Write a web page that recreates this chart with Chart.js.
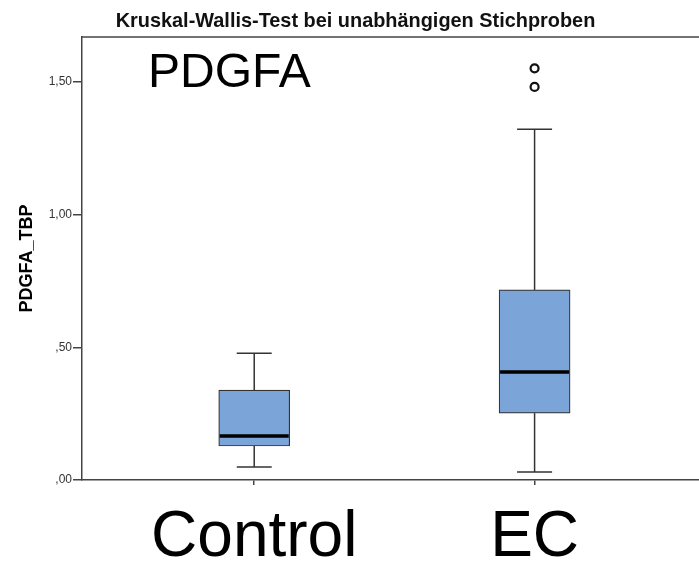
<!DOCTYPE html>
<html><head><meta charset="utf-8">
<script src="https://cdn.jsdelivr.net/npm/chart.js@4"></script>
<style>html,body{margin:0;padding:0;background:#fff;overflow:hidden;width:699px;height:563px}#wrap{width:706px;height:563px;position:relative}</style>
</head><body><div id="wrap"><canvas id="c"></canvas></div>
<script>
const categories = ["Control", "EC"];
const whiskerLow = [0.049, 0.030];
const q1 = [0.128, 0.252];
const median = [0.166, 0.407];
const q3 = [0.339, 0.716];
const whiskerHigh = [0.478, 1.321];
const outlierCategory = ["EC", "EC"];
const outlierValues = [1.551, 1.481];
const yTickValues = [0, 0.5, 1.0, 1.5];
const yTickLabels = [",00", ",50", "1,00", "1,50"];
const chartTitle = "Kruskal-Wallis-Test bei unabhängigen Stichproben";
const panelLabel = "PDGFA";
const yAxisTitle = "PDGFA_TBP";

const FONT = '"Liberation Sans", Arial, sans-serif';
Chart.defaults.font.family = FONT;

const boxPlugin = {
  id: 'boxParts',
  beforeDatasetsDraw(chart) {
    const {ctx, scales: {x, y}} = chart;
    ctx.save();
    ctx.strokeStyle = '#333';
    ctx.lineWidth = 1.5;
    categories.forEach((c, i) => {
      const px = x.getPixelForValue(i + 1);
      const capHalf = 17.5;
      [[whiskerHigh[i], q3[i]], [whiskerLow[i], q1[i]]].forEach(([w, q]) => {
        const pw = y.getPixelForValue(w), pq = y.getPixelForValue(q);
        ctx.beginPath(); ctx.moveTo(px, pw); ctx.lineTo(px, pq); ctx.stroke();
        ctx.beginPath(); ctx.moveTo(px - capHalf, pw); ctx.lineTo(px + capHalf, pw); ctx.stroke();
      });
    });
    ctx.restore();
  },
  afterDatasetsDraw(chart) {
    const {ctx, scales: {x, y}} = chart;
    const meta = chart.getDatasetMeta(0);
    ctx.save();
    ctx.strokeStyle = '#000';
    ctx.lineWidth = 3.5;
    categories.forEach((c, i) => {
      const bar = meta.data[i];
      const half = bar.width / 2;
      const px = x.getPixelForValue(i + 1);
      const pm = y.getPixelForValue(median[i]);
      ctx.beginPath(); ctx.moveTo(px - half + 1, pm); ctx.lineTo(px + half - 1, pm); ctx.stroke();
    });
    ctx.restore();
  },
  afterDraw(chart) {
    const {ctx, chartArea} = chart;
    ctx.save();
    ctx.strokeStyle = '#444';
    ctx.lineWidth = 1.5;
    ctx.beginPath(); ctx.moveTo(chartArea.left, chartArea.top); ctx.lineTo(chartArea.right, chartArea.top); ctx.stroke();
    ctx.fillStyle = '#111';
    ctx.textAlign = 'center';
    ctx.textBaseline = 'alphabetic';
    ctx.font = 'bold 19.9px ' + FONT;
    ctx.fillText(chartTitle, 355.5, 26.7);
    ctx.fillStyle = '#000';
    ctx.textAlign = 'left';
    ctx.font = '48px ' + FONT;
    ctx.fillText(panelLabel, 148, 86.7);
    ctx.restore();
  }
};

new Chart(document.getElementById('c'), {
  type: 'bar',
  data: {
    datasets: [
      {
        type: 'bar',
        data: categories.map((c, i) => ({x: i + 1, y: [q1[i], q3[i]]})),
        backgroundColor: '#7BA5D8',
        borderColor: '#333',
        borderWidth: 1.2,
        borderSkipped: false,
        barThickness: 71
      },
      {
        type: 'scatter',
        data: outlierCategory.map((c, k) => ({x: categories.indexOf(c) + 1, y: outlierValues[k]})),
        pointRadius: 4,
        borderWidth: 2.2,
        borderColor: '#111',
        backgroundColor: '#fff'
      }
    ]
  },
  options: {
    responsive: true,
    maintainAspectRatio: false,
    animation: false,
    layout: {padding: {top: 37, left: 0, right: 0, bottom: 0}},
    plugins: {legend: {display: false}, tooltip: {enabled: false}, title: {display: false}},
    scales: {
      x: {
        type: 'linear',
        offset: false,
        min: 0.3857, max: 2.5893,
        afterBuildTicks: s => { s.ticks = categories.map((c, i) => ({value: i + 1})); },
        ticks: {
          callback: (v, i) => categories[i],
          font: {size: 64, lineHeight: 1},
          color: '#000',
          padding: 21,
          maxRotation: 0,
          autoSkip: false
        },
        grid: {offset: false, drawOnChartArea: false, tickLength: 5, color: '#444', lineWidth: 1.5},
        border: {color: '#444', width: 1.5},
        afterFit: s => { s.height = 83; s.paddingLeft = 0; s.paddingRight = 0; }
      },
      y: {
        min: 0, max: 1.669,
        afterBuildTicks: s => { s.ticks = yTickValues.map(v => ({value: v})); },
        ticks: {
          callback: (v, i) => yTickLabels[i],
          font: {size: 12},
          color: '#333',
          padding: 1
        },
        grid: {drawOnChartArea: false, tickLength: 9, color: '#444', lineWidth: 1.5},
        border: {color: '#444', width: 1.5},
        title: {display: true, text: yAxisTitle, color: '#000', font: {size: 18, weight: 'bold'}, padding: {top: 16, bottom: 0}},
        afterFit: s => { s.width = 82; s.paddingTop = 0; s.paddingBottom = 0; }
      }
    }
  },
  plugins: [boxPlugin]
});
</script>
</body></html>
